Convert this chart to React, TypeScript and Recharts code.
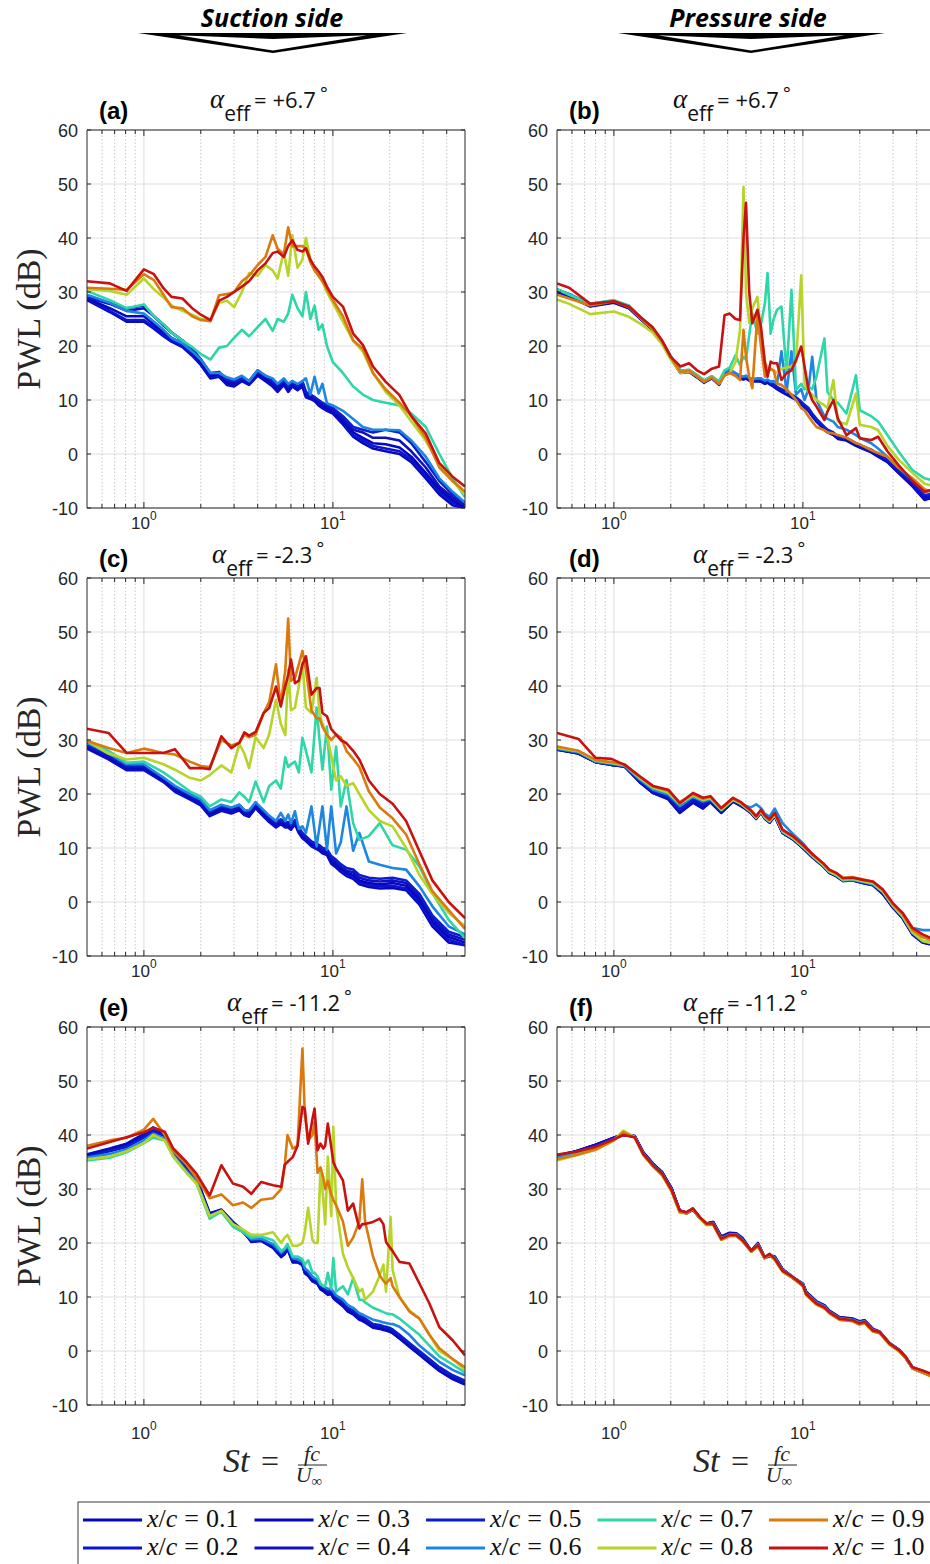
import React from 'react';
import { LineChart, Line, XAxis, YAxis, CartesianGrid, ReferenceLine } from 'recharts';

// ---------- shared labels ----------
const seriesNames = ['0.1', '0.2', '0.3', '0.4', '0.5', '0.6', '0.7', '0.8', '0.9', '1.0'];
const seriesColors = ['#0808b8', '#0a14d2', '#0606c4', '#1010bc', '#0a1ed0', '#1c86e2', '#2ed6a8', '#b6d42a', '#da7a0e', '#c81212'];
const yTicks = [-10, 0, 10, 20, 30, 40, 50, 60];
const xMajorTicks = [1, 10];
const xMinorTicks = [0.6, 0.7, 0.8, 0.9, 2, 3, 4, 5, 6, 7, 8, 9, 20, 30, 40];
const alphaLabels = ['+6.7', '-2.3', '-11.2'];
const panelLetters = ['(a)', '(b)', '(c)', '(d)', '(e)', '(f)'];
const sideTitles = ['Suction side', 'Pressure side'];

// ---------- panel (a): suction, +6.7 ----------
const stA = [0.5, 0.66, 0.81, 1.0, 1.13, 1.27, 1.4, 1.6, 1.8, 2.0, 2.25, 2.5, 2.75, 3.0, 3.3, 3.6, 4.0,
  4.4, 4.8, 5.1, 5.5, 5.8, 6.1, 6.5, 6.9, 7.2, 7.6, 8.0, 8.4, 8.8, 9.3, 10,
  11.3, 12.8, 14.4, 16.3, 19, 22.5, 26, 31, 36.6, 43, 50];
const a01 = [28.5, 26.3, 24.5, 24.5, 23.2, 21.8, 20.8, 19.8, 18.2, 16.5, 14, 14.3, 12.8, 12.5, 13.5, 12.8, 14.5,
  13.5, 12.5, 11.5, 12.8, 11.5, 12.5, 11.8, 12.5, 10.5, 10.2, 9.8, 9, 8.5, 8, 7.5,
  5.5, 3.2, 2, 1, 0.5, 0, -1.5, -4.5, -7.5, -9.5, -10];
const a02 = [28.7, 26.5, 24.8, 24.8, 23.5, 22, 21, 20, 18.5, 16.8, 14.2, 14.5, 13, 12.8, 13.8, 13, 14.7,
  13.8, 12.8, 11.8, 13, 11.8, 12.8, 12, 12.8, 10.8, 10.5, 10, 9.3, 8.8, 8.2, 7.8,
  5.8, 3.5, 2.5, 1.5, 1, 0.5, -1, -4, -7, -9, -10];
const a03 = [28.8, 27, 25.5, 25.5, 24, 22.5, 21.5, 20.5, 19, 17, 14.5, 14.8, 13.2, 13, 14, 13.2, 14.8,
  14, 13, 12, 13.2, 12, 13, 12.2, 13, 11, 10.8, 10.2, 9.5, 9, 8.5, 8,
  6, 4, 3, 2, 1.8, 1.2, -0.5, -3.5, -6.5, -8.5, -10];
const a04 = [29, 27.8, 26.5, 27, 25.5, 23.8, 22.5, 21, 19.5, 17.5, 14.8, 15, 13.5, 13.2, 14, 13.5, 15,
  14.2, 13.2, 12.5, 13.5, 12.3, 13.2, 12.5, 13.3, 11.3, 11, 10.5, 9.8, 9.3, 8.8, 8.2,
  6.5, 4.5, 4, 3, 3, 2.5, 0.5, -2.5, -6, -8, -9.5];
const a05 = [29, 28, 27, 27.5, 25.5, 24, 22.5, 21, 19.5, 17.5, 15, 15.2, 13.8, 13.5, 14, 13.5, 15.5,
  14.5, 13.5, 13, 13.5, 12.5, 13.5, 12.5, 13.5, 11.5, 11, 10.5, 10, 9.5, 9, 8.5,
  7, 5, 4.5, 4, 4.5, 4, 2, -1.5, -5, -7.5, -9];
const a06 = [29.5, 28, 26.5, 26, 24.5, 23, 21.5, 20.5, 19, 17.5, 15, 15, 14.2, 13.8, 14.5, 13.5, 15.5,
  14.5, 14, 13, 14, 13, 13.5, 13, 13.5, 14, 11, 14.3, 11.2, 13, 9.4, 9,
  8, 6.5, 5, 4.5, 4.5, 4.4, 2.5, -0.5, -4.5, -7, -9];
const a07 = [30.2, 28.5, 27, 27.7, 25.5, 24, 22.5, 21, 19.8, 18.5, 17.5, 19.7, 20, 21.5, 23, 21.8, 23.5,
  25, 22.8, 25, 24.5, 26, 29.5, 27, 25.5, 30, 25, 27.5, 23, 24, 20, 17,
  15, 12.5, 11, 10, 9.5, 9, 7.5, 5, 0, -4.5, -8];
const a08 = [30.5, 30.2, 29.5, 32.5, 30.5, 29, 27.5, 26.5, 25.8, 25, 24.7, 28, 28.4, 27.2, 30, 33.5, 33,
  35, 34, 32.5, 37.5, 33, 40.5, 34.5, 36, 40, 36, 34, 33, 32, 30, 28,
  24.5, 21, 19, 15, 11.5, 9, 6, 2.5, -2, -5, -7.5];
const a09 = [30.8, 30.6, 30.4, 33.3, 32.2, 29.5, 27.2, 27, 25.5, 24.8, 24.6, 29.4, 29.6, 30, 32, 33, 35,
  36.5, 40.5, 38, 37, 42, 38.5, 38.5, 38.5, 38, 35.5, 34, 33, 32, 30.5, 28.5,
  25.5, 21, 19.5, 15, 12, 9.5, 7, 3, -2.5, -5, -7];
const a10 = [32, 31.6, 30.2, 34.2, 33.3, 30.7, 29.1, 28.8, 27, 25.8, 24.8, 28.4, 29.1, 30, 31, 32, 34,
  35.3, 37.2, 37.5, 36.5, 38.5, 39.6, 37.8, 37.5, 38.1, 36, 34.7, 33.8, 32.8, 31, 29.1,
  27.3, 22.3, 20.2, 16.2, 13.4, 10.9, 7, 3.8, -1.7, -4.2, -6];

// ---------- panel (b): pressure, +6.7 ----------
const stB = [0.5, 0.58, 0.75, 1.0, 1.2, 1.4, 1.6, 1.8, 2.0, 2.25, 2.5, 2.75, 3.0, 3.3, 3.6,
  3.85, 4.1, 4.4, 4.65, 4.85, 5.0, 5.2, 5.4, 5.75, 6.0, 6.3, 6.5, 6.75, 7.0, 7.3, 7.7, 8.2, 8.7, 9.2, 9.8,
  10.2, 10.7, 11.2, 11.8, 13, 13.5, 14.5, 15.3, 17, 19.1, 20, 23, 25, 28, 32, 38, 44, 50];
const b01 = [30, 29.2, 27.3, 28, 27, 24.8, 23, 20.5, 17.7, 15, 15.2, 14.2, 13.2, 14, 12.8,
  14.8, 15.2, 14.5, 14, 13.8, 14, 13.6, 13.4, 13.5, 13.4, 13, 13.2, 12.8, 12.5, 12, 11.5, 11, 10.5, 10, 9.2,
  8.6, 8, 7, 6, 4.5, 4, 3.5, 2.8, 2.5, 1.5, 1.2, 0.3, -0.5, -1.5, -3.5, -6, -8.5, -8];
const b02 = [30.2, 29.4, 27.5, 28.1, 27.1, 24.9, 23.1, 20.6, 17.8, 15.1, 15.3, 14.3, 13.3, 14.1, 12.9,
  14.9, 15.3, 14.6, 14.1, 13.9, 14.1, 13.7, 13.5, 13.6, 13.5, 13.1, 13.3, 12.9, 12.6, 12.1, 11.6, 11.1, 10.6, 10.1, 9.3,
  8.7, 8.1, 7.1, 6.1, 4.6, 4.1, 3.6, 2.9, 2.6, 1.6, 1.3, 0.4, -0.4, -1.4, -3.4, -5.8, -8.2, -7.8];
const b03 = [30.3, 29.5, 27.6, 28.2, 27.2, 25, 23.2, 20.7, 17.9, 15.2, 15.4, 14.4, 13.4, 14.2, 13,
  15, 15.4, 14.7, 14.2, 14, 14.2, 13.8, 13.6, 13.7, 13.6, 13.2, 13.4, 13, 12.7, 12.2, 11.7, 11.2, 10.7, 10.2, 9.4,
  8.8, 8.2, 7.2, 6.2, 4.7, 4.2, 3.7, 3, 2.7, 1.7, 1.4, 0.5, -0.3, -1.3, -3.3, -5.6, -8, -7.6];
const b04 = [30.1, 29.3, 27.4, 28.1, 27.1, 24.9, 23.1, 20.6, 17.8, 15.1, 15.3, 14.3, 13.3, 14.1, 12.9,
  14.9, 15.4, 14.8, 14.3, 14.1, 14.3, 13.9, 13.7, 13.8, 13.7, 13.3, 13.5, 13.1, 12.8, 12.3, 11.8, 11.3, 10.8, 10.3, 9.5,
  8.9, 8.3, 7.3, 6.3, 4.8, 4.3, 3.8, 3.1, 2.8, 1.8, 1.5, 0.6, -0.2, -1.2, -3.2, -5.5, -7.8, -7.5];
const b05 = [30.4, 29.6, 27.7, 28.3, 27.3, 25.1, 23.3, 20.8, 18, 15.3, 15.5, 14.5, 13.5, 14.3, 13.1,
  15.1, 15.5, 14.9, 14.4, 14.2, 14.4, 14, 13.8, 13.9, 13.8, 13.4, 13.6, 13.2, 12.9, 12.4, 12, 11.5, 11, 10.5, 9.7,
  9.1, 8.5, 7.5, 6.5, 5, 4.5, 4, 3.3, 3, 2, 1.7, 0.8, 0, -1, -3, -5.3, -7.6, -7.3];
const b06 = [30.5, 29.6, 27.8, 28.4, 27.4, 25.2, 23.4, 20.9, 18.1, 15.4, 15.6, 14.6, 13.6, 14.4, 13.2,
  15.2, 15.6, 15, 14.5, 14.3, 14.5, 14.1, 13.9, 14, 14, 13.6, 13.8, 13.4, 13.5, 13, 19, 11.5, 19, 11, 12,
  10, 12, 18, 10, 7, 6.5, 6, 5, 4.5, 3.5, 3, 2, 1, -0.5, -2.5, -4.8, -7, -6.8];
const b07 = [30.5, 29.5, 27.8, 28.5, 27.5, 25, 23.2, 20.8, 18, 15.5, 15.5, 14.6, 13.6, 14.4, 13.5,
  15.5, 16, 18.3, 16.5, 18, 17.5, 22, 26, 22.3, 24, 28, 33.5, 22.3, 25, 26.7, 27.3, 15, 30.4, 11.9, 13,
  12, 12.5, 12, 14.3, 21.4, 11.5, 10, 9.5, 7.5, 14.6, 8.1, 7, 6, 3.5, 0.5, -3, -4.5, -5];
const b08 = [28.6, 27.8, 25.9, 26.4, 25.4, 24, 22.5, 20.3, 17.5, 15, 15.3, 14.4, 13.4, 14.2, 13,
  14.5, 15, 17, 23, 49.5, 30, 24.3, 27, 29.1, 22.3, 17, 16, 15.6, 15.5, 15, 15.8, 16, 16.2, 17, 33.1,
  13.1, 11.5, 11, 10, 9, 8.5, 13.7, 6, 5.5, 11.2, 5.4, 5, 4.4, 1.5, -1, -3.5, -5.5, -6];
const b09 = [29.5, 28.8, 27.5, 28.3, 27.2, 25, 23.2, 20.8, 17.9, 15.2, 15.4, 14.4, 13.4, 14.2, 13,
  14.5, 15, 14.5, 13.7, 23, 18, 14.3, 12.2, 26, 20, 14.3, 15, 15.8, 15.5, 13, 12.8, 12, 11, 10, 8.5,
  8.1, 7, 6, 5, 4.4, 4, 3.8, 3.5, 3, 2, 1.8, 0.7, 0.2, -0.5, -2.5, -4.5, -6.5, -7.3];
const b10 = [31.6, 30.8, 27.8, 28.3, 27.3, 25.2, 23.5, 21, 18, 16.2, 16.8, 15.5, 14.8, 15.8, 16.2,
  25.7, 26, 25, 24.8, 40, 46.5, 30, 24.2, 26.7, 23.6, 16.8, 14.3, 17.1, 16.8, 16.8, 13.7, 15, 15.5, 17.4, 19.9,
  16.2, 11.9, 10, 8.8, 6.3, 7.9, 10, 6.6, 3.5, 4.8, 2.9, 2.6, 3.2, 0.5, -2, -5, -7, -6.4];

// ---------- panel (c): suction, -2.3 ----------
const stC = [0.5, 0.65, 0.81, 1.0, 1.27, 1.46, 1.75, 2.0, 2.23, 2.57, 2.9, 3.2, 3.4, 3.6, 3.9,
  4.3, 4.6, 5.0, 5.3, 5.6, 5.8, 6.0, 6.3, 6.6, 6.9, 7.2, 7.7, 8.2, 8.5, 8.8, 9.3,
  9.8, 10.4, 11.0, 11.8, 12.8, 13.8, 15.5, 17.7, 20.7, 24.4, 28.7, 33.6, 41, 50];
const c01 = [28.4, 26.4, 24.4, 24.4, 22.2, 20.4, 19, 17.9, 15.9, 16.9, 16.4, 17, 16.1, 15.8, 17.4,
  15.8, 14.8, 13.8, 14.4, 13.8, 13.8, 13.4, 14.4, 12.8, 11.8, 11.3, 10.3, 9.8, 9.5, 9, 8.7,
  7.1, 6.4, 5.6, 4.8, 4.3, 3.3, 2.8, 2.5, 2.6, 2.2, -0.5, -4.5, -7.5, -8];
const c02 = [28.5, 26.6, 24.6, 24.6, 22.4, 20.6, 19.2, 18.1, 16.1, 17.1, 16.6, 17.2, 16.3, 16, 17.6,
  16, 15, 14, 14.6, 14, 14, 13.6, 14.6, 13, 12, 11.5, 10.5, 10, 9.7, 9.3, 9,
  7.4, 6.7, 5.9, 5.1, 4.6, 3.6, 3.1, 2.9, 3, 2.5, 0, -4, -7, -8];
const c03 = [28.6, 26.8, 24.8, 24.8, 22.6, 20.8, 19.4, 18.3, 16.3, 17.3, 16.8, 17.4, 16.5, 16.2, 17.8,
  16.2, 15.3, 14.2, 14.8, 14.2, 14.2, 13.8, 14.8, 13.2, 12.2, 11.8, 10.7, 10.2, 10, 9.5, 9.2,
  7.7, 7, 6.2, 5.4, 5, 4, 3.5, 3.3, 3.5, 3, 0.5, -3.5, -6.5, -7.5];
const c04 = [28.8, 27, 25, 25, 22.8, 21, 19.6, 18.5, 16.5, 17.5, 17, 17.6, 16.7, 16.5, 18,
  16.5, 15.5, 14.5, 15, 14.5, 14.5, 14, 15, 13.5, 12.5, 12, 11, 10.5, 10.2, 9.7, 9.5,
  8, 7.3, 6.5, 5.8, 5.5, 4.5, 4, 3.8, 4, 3.5, 1, -3, -6, -7];
const c05 = [29, 27.3, 25.2, 25.3, 23, 21.3, 19.8, 18.8, 16.8, 17.8, 17.3, 18, 17, 16.8, 18.2,
  16.8, 15.8, 14.8, 15.3, 14.8, 14.8, 14.2, 15.2, 13.8, 12.8, 12.2, 11.2, 10.8, 10.5, 10, 9.8,
  8.5, 7.8, 7, 6.3, 6, 5, 4.5, 4.3, 4.5, 4, 1.5, -2.5, -5.5, -6.5];
const c06 = [29.5, 27.5, 25.5, 25.5, 23, 21.5, 20, 19, 17, 18, 17.5, 18, 17, 17, 18.5,
  17, 16, 15, 16.5, 15, 16.2, 14.6, 16.8, 13.5, 14, 12.8, 17.7, 10.3, 14, 17.7, 9.7,
  17.7, 9, 11, 17.7, 9.5, 12.8, 7.5, 6.9, 6.3, 6, 2.9, -0.8, -4.5, -6];
const c07 = [30, 28, 25.8, 26, 24, 22.5, 20.5, 19.5, 17.7, 19, 18.5, 20.3, 19.5, 18.5, 22.3,
  18.5, 21.5, 22.5, 21, 26.8, 25, 25.5, 26, 24, 30.4, 28, 24, 36, 30, 24.5, 32.5,
  20.8, 28.8, 17.7, 22.6, 14.6, 11.5, 12.2, 14.6, 10.5, 9.7, 6.6, 1.7, -3.3, -6.7];
const c08 = [29.8, 27.5, 26.4, 26.7, 25.5, 24.5, 23, 22.5, 23.5, 25.3, 24, 29.3, 27.5, 24.8, 30.5,
  28.5, 31, 37.5, 33, 30.9, 43, 35.5, 36, 40, 44.3, 36, 35, 41.5, 35, 33, 31,
  27, 22.5, 23.3, 21.5, 22, 20, 17, 15, 14, 10, 5, 1.5, -2, -4.5];
const c09 = [29.8, 28.5, 27.6, 28.4, 27.6, 27.3, 26, 25.2, 25, 30, 29, 29.5, 31, 30.5, 31,
  35, 37, 44, 36.5, 43, 52.5, 41, 41.5, 44, 46.5, 43, 35.5, 34, 34, 32.5, 31,
  30, 31, 30.5, 28, 26.5, 25, 20.5, 17.5, 15.5, 12.5, 7, 2, -1.5, -5];
const c10 = [32.1, 31.3, 27.6, 27.6, 27.6, 28.3, 24.8, 24.8, 24.6, 30.7, 28.5, 29.5, 31.4, 30.8, 31.5,
  35, 35.9, 39.9, 36.2, 40, 42, 44.9, 40.5, 41, 44, 45.5, 38.4, 39.6, 39.6, 35, 34.4,
  32, 31, 30, 29.4, 28, 26.4, 22.5, 20, 18.2, 15, 9.4, 4, 0, -3];

// ---------- panel (d): pressure, -2.3 ----------
const stD = [0.5, 0.65, 0.8, 0.97, 1.14, 1.37, 1.61, 1.94, 2.23, 2.62, 2.96, 3.24, 3.7, 4.27, 4.7, 5.0, 5.3, 5.66, 6.0, 6.3,
  6.66, 7.1, 7.8, 8.85, 10, 11.3, 12.8, 13.8, 15, 16.3, 18.4, 20.7, 23.5, 26.5, 29.9, 33.7, 38, 43, 50];
const d01 = [28.2, 27.5, 25.9, 25.4, 25.1, 22.2, 20.2, 19, 16.5, 18.4, 17.3, 18.5, 16.5, 18.6, 17.8, 17.2, 16.5, 15.4, 16.6, 15.4,
  14.7, 15.9, 12.8, 11.6, 10, 8.2, 6.6, 5.4, 4.8, 3.9, 4, 3.5, 3.1, 1.5, -1, -3, -6, -7.5, -8];
const d02 = [28.2, 27.5, 25.9, 25.4, 25.1, 22.2, 20.2, 19.1, 16.6, 18.5, 17.4, 18.5, 16.5, 18.6, 17.8, 17.2, 16.5, 15.4, 16.6, 15.4,
  14.7, 15.9, 12.8, 11.6, 10, 8.2, 6.6, 5.4, 4.8, 3.9, 4, 3.5, 3.1, 1.5, -1, -3, -6, -7.5, -8];
const d03 = [28.3, 27.5, 25.9, 25.4, 25.1, 22.3, 20.3, 19.2, 16.7, 18.6, 17.6, 18.6, 16.6, 18.7, 17.9, 17.3, 16.6, 15.5, 16.7, 15.5,
  14.8, 16, 12.9, 11.7, 10.1, 8.3, 6.7, 5.5, 4.9, 4, 4.1, 3.6, 3.2, 1.6, -0.9, -2.9, -5.9, -7.4, -8];
const d04 = [28.3, 27.6, 26, 25.5, 25.1, 22.4, 20.4, 19.3, 16.9, 18.7, 17.8, 18.7, 16.7, 18.7, 17.9, 17.3, 16.6, 15.5, 16.7, 15.5,
  14.8, 16, 12.9, 11.7, 10.1, 8.3, 6.7, 5.5, 4.9, 4, 4.1, 3.6, 3.2, 1.7, -0.9, -2.9, -5.9, -7.4, -7.9];
const d05 = [28.4, 27.7, 26, 25.5, 25.2, 22.5, 20.5, 19.5, 17.2, 19, 18.3, 18.9, 16.8, 18.8, 18, 17.4, 16.7, 15.6, 16.8, 15.6,
  14.9, 16.1, 13, 11.8, 10.2, 8.4, 6.8, 5.6, 5, 4.1, 4.2, 3.7, 3.3, 1.8, -0.8, -2.8, -5.8, -7.3, -7.8];
const d06 = [28.4, 27.7, 26, 25.6, 25.2, 22.7, 20.8, 19.9, 17.8, 19.5, 18.6, 19, 17, 19.1, 18.2, 17.8, 17.5, 18.1, 17.4, 16.3,
  15.8, 17.3, 14.6, 12.6, 10.9, 8.6, 6.8, 5.6, 5, 4, 4.1, 3.7, 3.3, 1.8, -0.6, -2.4, -4.8, -5.2, -5.2];
const d07 = [28.6, 27.9, 26.2, 25.7, 25.3, 22.9, 21.1, 20.2, 18.2, 19.7, 18.9, 19.2, 17.1, 18.9, 18.2, 17.5, 16.8, 15.7, 16.8, 15.6,
  14.9, 16.1, 13, 11.8, 10.2, 8.4, 6.8, 5.6, 5, 4.1, 4.2, 3.8, 3.4, 1.9, -0.7, -2.7, -5.7, -7.2, -7.6];
const d08 = [28.6, 27.9, 26.2, 25.8, 25.4, 23, 21.2, 20.3, 18.2, 19.8, 18.9, 19.3, 17.1, 19, 18.2, 17.4, 16.7, 15.6, 16.8, 15.7,
  15, 16.2, 13.1, 11.9, 10.3, 8.5, 6.9, 5.7, 5.1, 4.2, 4.3, 3.9, 3.5, 2, -0.6, -2.6, -5.6, -7.2, -7.8];
const d09 = [28.8, 28, 26.3, 25.9, 25.5, 23.2, 21.4, 20.6, 18.5, 20, 19.1, 19.5, 17.3, 19.2, 18.4, 17.6, 16.9, 15.8, 17, 15.9,
  15.2, 16.4, 13.3, 12.1, 10.5, 8.7, 7.1, 5.9, 5.3, 4.5, 4.6, 4.2, 3.7, 2.2, -0.4, -2.3, -5.2, -6.5, -7.3];
const d10 = [31.3, 30.2, 26.7, 26.5, 25.4, 23.3, 21.5, 20.8, 18.3, 20.2, 19.3, 19.6, 17.4, 19.3, 18.5, 17.7, 17, 15.9, 17.1, 16,
  15.3, 16.5, 13.4, 12.2, 10.6, 8.8, 7.2, 6, 5.4, 4.4, 4.5, 4.1, 3.8, 2.3, -0.2, -2, -4.8, -6, -7];

// ---------- panel (e): suction, -11.2 ----------
const stE = [0.5, 0.66, 0.81, 1.0, 1.12, 1.29, 1.43, 1.68, 1.9, 2.23, 2.57, 2.96, 3.35, 3.7, 4.17, 4.82,
  5.33, 5.55, 5.75, 6.13, 6.5, 6.9, 7.1, 7.4, 7.8, 8.0, 8.3, 8.6, 8.9, 9.1, 9.4, 9.8, 10.05, 10.4,
  11.3, 12, 12.8, 13.8, 14.3, 14.8, 16.3, 17.7, 18.5, 19.1, 20.2, 20.7, 22.5, 25.4, 28.7, 32.4, 36.6, 43, 50];
const e01 = [36.4, 37.5, 38.4, 40.2, 41.4, 40.4, 37, 34, 32, 25.5, 26.2, 23.9, 22.3, 20.2, 20.4, 19.1,
  17.4, 17.9, 18.9, 16.4, 16.4, 15.9, 14.4, 13.9, 12.9, 12.7, 12.4, 11.4, 11.1, 10.8, 10.4, 10.6, 9.8, 9.3,
  8.3, 7.3, 6.8, 5.8, 5.6, 5.3, 4.3, 4.1, 3.9, 3.8, 3.5, 3.3, 2.3, 0.8, -0.7, -2.2, -3.7, -5.2, -6.2];
const e02 = [36.3, 37.4, 38.3, 40.1, 41.3, 40.3, 36.9, 33.9, 31.9, 25.4, 26.1, 23.8, 22.2, 20.3, 20.5, 19.2,
  17.5, 18, 19, 16.5, 16.5, 16, 14.5, 14, 13, 12.8, 12.5, 11.5, 11.2, 10.9, 10.5, 10.7, 9.9, 9.4,
  8.4, 7.4, 6.9, 5.9, 5.7, 5.4, 4.4, 4.2, 4, 3.9, 3.6, 3.4, 2.4, 0.9, -0.6, -2.1, -3.6, -5.1, -6.1];
const e03 = [36.2, 37.3, 38.2, 40, 41.2, 40.2, 36.8, 33.8, 31.8, 25.3, 26, 23.7, 22.1, 20.4, 20.6, 19.3,
  17.6, 18.1, 19.1, 16.6, 16.6, 16.1, 14.6, 14.1, 13.1, 12.9, 12.6, 11.6, 11.3, 11, 10.6, 10.8, 10, 9.5,
  8.5, 7.5, 7, 6, 5.8, 5.5, 4.5, 4.3, 4.1, 4, 3.7, 3.5, 2.5, 1, -0.5, -2, -3.5, -5, -6];
const e04 = [36, 37.2, 38, 39.8, 41, 40, 36.7, 33.7, 31.7, 25.2, 25.9, 23.6, 22, 20.5, 20.7, 19.4,
  17.8, 18.3, 19.3, 16.8, 16.8, 16.3, 14.8, 14.3, 13.3, 13.1, 12.8, 11.8, 11.5, 11.2, 10.8, 11, 10.2, 9.7,
  8.7, 7.7, 7.2, 6.2, 6, 5.7, 4.7, 4.5, 4.3, 4.2, 3.9, 3.7, 2.7, 1.2, -0.3, -1.8, -3.3, -4.8, -5.8];
const e05 = [36, 37, 37.8, 39.5, 40.7, 39.8, 36.6, 33.6, 31.6, 25, 25.8, 23.5, 22, 20.5, 20.8, 19.5,
  18, 18.5, 19.5, 17, 17, 16.5, 15, 14.5, 13.5, 13.3, 13, 12, 11.8, 11.5, 11, 11.3, 10.5, 10,
  9, 8, 7.5, 6.5, 6.3, 6, 5, 4.8, 4.6, 4.5, 4.2, 4, 3, 1.5, 0, -1.5, -3, -4.5, -5.5];
const e06 = [35.8, 36.5, 37.3, 39, 40.2, 39.3, 36.3, 33.3, 31.3, 25, 25.8, 23.3, 22, 20.7, 20.8, 19.8,
  18.2, 18.8, 19.5, 17.2, 17, 16.5, 15.3, 14.8, 13.8, 13.5, 13.2, 12.3, 12, 11.8, 11.5, 11.5, 11, 10.3,
  9.5, 8.5, 8, 7, 6.8, 6.5, 5.8, 5.5, 5.3, 5.2, 5, 5, 4.5, 3, 1, -0.5, -2, -3.5, -4.5];
const e07 = [35.3, 35.8, 36.8, 38.5, 39.5, 39, 36, 33, 31, 24.5, 25.8, 23, 22, 21, 21.2, 20.5,
  18.5, 19, 19.8, 17.5, 17.5, 17, 16, 16.8, 14.5, 14.5, 13.8, 12.5, 12, 12, 14.5, 11.5, 17.2, 11,
  12, 10.5, 13.5, 9.5, 9.5, 9, 8, 7.5, 7.2, 7, 6.8, 6.8, 6, 4.5, 3, 1, -1, -2.5, -4];
const e08 = [35.5, 36, 37, 38.5, 40, 39, 36, 33, 31, 25, 26, 23.5, 22.5, 21.5, 21.5, 22,
  20, 21, 21.5, 19.5, 19.5, 20, 22, 26.5, 20.5, 20, 20, 33.5, 28, 23.5, 36, 25, 41.5, 27,
  18, 15.5, 13.5, 11, 11.5, 9.5, 11, 14, 16, 11, 24.8, 15, 10, 7.5, 6, 3, 0, -1.5, -3.5];
const e09 = [38, 39, 39.5, 41, 43, 40, 37, 34.5, 32, 28.3, 29, 27, 27.5, 26.5, 28, 28.3,
  30, 34, 40, 37.5, 38, 56, 44, 39, 40, 42.4, 33, 34, 32, 30, 31.5, 29, 28, 27,
  24, 19.5, 21, 24, 31.8, 24, 17.5, 14, 13, 12.5, 13.5, 12, 10, 7.3, 6, 3, 0.5, -1.5, -3];
const e10 = [37.5, 38.7, 39.6, 40.5, 41.3, 40.6, 37.5, 35, 32.8, 28.8, 34.4, 31, 30.4, 29.1, 31.3, 30.7,
  30.4, 34.4, 35, 35.9, 38, 45.2, 44.9, 38.4, 43, 44.9, 37.2, 38.4, 37.5, 38, 42.1, 37.8, 35, 33.8,
  31.6, 26, 27.3, 22.7, 23.5, 23.5, 23.9, 24.5, 23.5, 20.2, 19, 18.5, 16.5, 16.2, 12.5, 8.8, 4.4, 2, -0.8];

// ---------- panel (f): pressure, -11.2 ----------
const stF = [0.5, 0.63, 0.8, 1.0, 1.12, 1.29, 1.43, 1.61, 1.8, 2.02, 2.23, 2.42, 2.62, 2.85, 3.09, 3.35, 3.7, 4.1, 4.44, 4.8,
  5.33, 5.78, 6.27, 6.66, 7.1, 7.8, 8.85, 10, 10.4, 11.8, 13, 13.8, 15.6, 18.4, 19.9, 21.2, 23.5, 25.5, 28.7, 32.4,
  35, 38, 43, 50];
const f01 = [36.2, 37, 38.2, 39.5, 40.1, 39.8, 36.8, 34.7, 33.1, 30.1, 26, 25.6, 26.3, 24.7, 23.6, 23.9, 21.1, 21.8, 21.7, 20.8,
  18.5, 19.9, 17.3, 17.7, 17.4, 15.1, 13.6, 12.4, 10.9, 9.1, 8.4, 7.4, 6.2, 5.9, 5.4, 5.6, 4, 3.5, 1.4, 0.1,
  -1.2, -3.1, -3.9, -4.7];
const f02 = [36.1, 36.9, 38.1, 39.4, 40, 39.7, 36.7, 34.6, 33, 30, 25.9, 25.5, 26.2, 24.6, 23.5, 23.8, 21, 21.7, 21.6, 20.7,
  18.4, 19.8, 17.2, 17.6, 17.3, 15, 13.5, 12.3, 10.8, 9, 8.3, 7.3, 6.1, 5.8, 5.3, 5.5, 3.9, 3.4, 1.3, 0,
  -1.3, -3.2, -4, -4.8];
const f03 = [36.2, 37, 38.2, 39.5, 40.1, 39.8, 36.8, 34.7, 33.1, 30.1, 26, 25.6, 26.3, 24.7, 23.6, 23.9, 21.2, 21.9, 21.8, 20.9,
  18.6, 20, 17.4, 17.7, 17.5, 15.2, 13.7, 12.5, 11, 9.2, 8.5, 7.5, 6.3, 6, 5.5, 5.7, 4.1, 3.6, 1.5, 0.2,
  -1.1, -3, -3.8, -4.6];
const f04 = [36.1, 36.9, 38.1, 39.5, 40.1, 39.7, 36.7, 34.6, 33, 30, 25.9, 25.5, 26.2, 24.6, 23.5, 23.8, 21.1, 21.8, 21.7, 20.8,
  18.5, 19.9, 17.3, 17.6, 17.4, 15.1, 13.6, 12.4, 10.9, 9.1, 8.4, 7.4, 6.2, 5.9, 5.4, 5.6, 4, 3.5, 1.4, 0.1,
  -1.2, -3.1, -3.9, -4.7];
const f05 = [36, 36.8, 38, 39.4, 40, 39.7, 36.7, 34.6, 33, 30, 25.9, 25.5, 26.2, 24.6, 23.5, 23.8, 21, 21.7, 21.6, 20.7,
  18.4, 19.8, 17.2, 17.6, 17.3, 15, 13.5, 12.3, 10.8, 9, 8.3, 7.3, 6.1, 5.8, 5.3, 5.5, 3.9, 3.4, 1.3, 0,
  -1.3, -3.2, -4, -4.8];
const f06 = [35.8, 36.6, 37.7, 39.2, 40.2, 39.7, 36.6, 34.5, 32.9, 29.9, 25.9, 25.6, 26.4, 24.7, 23.6, 23.7, 20.9, 21.6, 21.6, 20.6,
  18.6, 19.8, 17.4, 17.9, 17.3, 15.1, 13.7, 12.4, 10.8, 9, 8.3, 7.3, 6.1, 5.8, 5.3, 5.5, 3.9, 3.5, 1.4, 0.1,
  -1.2, -3.1, -3.9, -4.6];
const f07 = [35.5, 36.4, 37.5, 39.1, 40.5, 39.6, 36.4, 34.3, 32.7, 29.7, 25.8, 25.6, 26.4, 24.7, 23.5, 23.6, 20.8, 21.5, 21.5, 20.5,
  18.5, 19.6, 17.3, 17.9, 17.1, 14.9, 13.6, 12.2, 10.6, 8.8, 8.1, 7.2, 6, 5.7, 5.1, 5.4, 3.8, 3.5, 1.4, 0.1,
  -1.1, -3, -3.7, -4.7];
const f08 = [35.3, 36.2, 37.2, 39, 40.8, 39.6, 36.3, 34.2, 32.5, 29.5, 25.6, 25.5, 26.3, 24.5, 23.3, 23.4, 20.6, 21.3, 21.3, 20.3,
  18.4, 19.4, 17.2, 17.8, 16.9, 14.7, 13.5, 12, 10.4, 8.6, 7.9, 7, 5.8, 5.5, 4.9, 5.2, 3.6, 3.3, 1.2, -0.1,
  -1.3, -3.2, -4, -5];
const f09 = [35.5, 36.3, 37.3, 39, 40.5, 39.5, 36.3, 34.2, 32.6, 29.6, 25.7, 25.5, 26.3, 24.6, 23.4, 23.4, 20.6, 21.3, 21.3, 20.3,
  18.4, 19.4, 17.2, 17.8, 16.9, 14.7, 13.5, 12, 10.4, 8.6, 7.9, 7, 5.8, 5.5, 4.9, 5.2, 3.6, 3.3, 1.2, -0.1,
  -1.3, -3.2, -4, -5];
const f10 = [36.4, 36.9, 37.8, 39.2, 40, 39.6, 36.5, 34.4, 32.8, 29.8, 26, 25.7, 26.4, 24.8, 23.6, 23.6, 20.8, 21.5, 21.5, 20.5,
  18.6, 19.6, 17.4, 18, 17.1, 14.9, 13.7, 12.2, 10.6, 8.8, 8.1, 7.2, 6, 5.7, 5.1, 5.4, 3.8, 3.5, 1.4, 0.1,
  -1.1, -3, -3.6, -4.5];

const panels = [
  { st: stA, series: [a01, a02, a03, a04, a05, a06, a07, a08, a09, a10] },
  { st: stB, series: [b01, b02, b03, b04, b05, b06, b07, b08, b09, b10] },
  { st: stC, series: [c01, c02, c03, c04, c05, c06, c07, c08, c09, c10] },
  { st: stD, series: [d01, d02, d03, d04, d05, d06, d07, d08, d09, d10] },
  { st: stE, series: [e01, e02, e03, e04, e05, e06, e07, e08, e09, e10] },
  { st: stF, series: [f01, f02, f03, f04, f05, f06, f07, f08, f09, f10] },
];

// ---------- layout ----------
const COL_LEFT = [87, 557];
const ROW_TOP = [130, 578, 1027];
const PLOT = 378;
const YW = 60;
const MT = 14;
const MR = 6;
const XH = 45;
const PB = MT + PLOT;
const XLABEL_OFF = [21, 21, 34];
const TITLE_X = [210, 673, 212, 693, 227, 683];
const TITLE_BASE = [108, 563, 1011];
const AX = '#262626';
const SANS = '"Liberation Sans", Arial, Helvetica, sans-serif';
const SERIF = '"Liberation Serif", "Times New Roman", serif';

function buildRows(st: number[], series: number[][]) {
  return st.map((x, i) => {
    const r: any = { x };
    series.forEach((s, j) => { r['s' + j] = s[i]; });
    return r;
  });
}

const allXTicks = [...xMinorTicks, ...xMajorTicks].sort((p, q) => p - q);

function makeXTick(labelOff: number) {
  return (props: any) => {
    const { x, payload } = props;
    const v = payload.value;
    const major = xMajorTicks.includes(v);
    const len = major ? 6 : 4;
    return (
      <g>
        <line x1={x} x2={x} y1={PB} y2={PB - len} stroke={AX} strokeWidth={1} />
        <line x1={x} x2={x} y1={MT} y2={MT + len} stroke={AX} strokeWidth={1} />
        {major && (
          <text x={x} y={PB + labelOff} textAnchor="middle" fontFamily={SANS} fontSize={17} fill={AX}>
            10<tspan fontSize={12} dy={-9}>{Math.round(Math.log10(v))}</tspan>
          </text>
        )}
      </g>
    );
  };
}

const YTick = (props: any) => {
  const { y, payload } = props;
  return (
    <g>
      <line x1={YW} x2={YW + 4} y1={y} y2={y} stroke={AX} strokeWidth={1} />
      <line x1={YW + PLOT - 4} x2={YW + PLOT} y1={y} y2={y} stroke={AX} strokeWidth={1} />
      <text x={YW - 9} y={y} dy={6.5} textAnchor="end" fontFamily={SANS} fontSize={18} fill={AX}>{payload.value}</text>
    </g>
  );
};

function Panel({ idx }: { idx: number }) {
  const p = panels[idx];
  const row = Math.floor(idx / 2);
  const col = idx % 2;
  const rows = buildRows(p.st, p.series);
  const XTick = makeXTick(XLABEL_OFF[row]);
  return (
    <div style={{ position: 'absolute', left: COL_LEFT[col] - YW, top: ROW_TOP[row] - MT }}>
      <LineChart width={YW + PLOT + MR} height={MT + PLOT + XH} data={rows} margin={{ top: MT, right: MR, left: 0, bottom: 0 }}>
        <CartesianGrid vertical={false} stroke="#dedede" strokeWidth={1} />
        {xMajorTicks.map((t) => (
          <ReferenceLine key={'M' + t} x={t} stroke="#dedede" strokeWidth={1} ifOverflow="visible" />
        ))}
        {xMinorTicks.map((t) => (
          <ReferenceLine key={'m' + t} x={t} stroke="#c8c8c8" strokeWidth={1} strokeDasharray="1.5 2" ifOverflow="visible" />
        ))}
        <XAxis dataKey="x" type="number" scale="log" domain={[0.5, 50]} allowDataOverflow ticks={allXTicks}
          interval={0} axisLine={false} tickLine={false} tick={XTick} height={XH} />
        <YAxis type="number" domain={[-10, 60]} allowDataOverflow ticks={yTicks} interval={0}
          axisLine={false} tickLine={false} tick={YTick} width={YW} />
        {p.series.map((_, j) => (
          <Line key={j} dataKey={'s' + j} type="linear" stroke={seriesColors[j]} strokeWidth={2.6}
            dot={false} activeDot={false} isAnimationActive={false} strokeLinejoin="round" />
        ))}
        <ReferenceLine x={0.5} stroke={AX} strokeWidth={1} ifOverflow="visible" />
        <ReferenceLine x={50} stroke={AX} strokeWidth={1} ifOverflow="visible" />
        <ReferenceLine y={-10} stroke={AX} strokeWidth={1} ifOverflow="visible" />
        <ReferenceLine y={60} stroke={AX} strokeWidth={1} ifOverflow="visible" />
      </LineChart>
    </div>
  );
}

function Overlay() {
  const headerX = [272, 748];
  const arrows = [[138, 273, 407], [618, 751, 885]];
  return (
    <svg width={930} height={1564} style={{ position: 'absolute', left: 0, top: 0, pointerEvents: 'none' }}>
      {sideTitles.map((t, i) => {
        const [l, c, r] = arrows[i];
        return (
          <g key={t}>
            <text x={headerX[i]} y={27} textAnchor="middle" fontFamily='"Open Sans", sans-serif' fontWeight={700}
              fontStyle="italic" fontSize={25} fill="#000">{t}</text>
            <polygon points={`${l},33 ${r},33 ${c},53`} fill="#000" />
            <polygon points={`${l + 40},35.2 ${c},39 ${r - 40},35.2 ${c},50.5`} fill="#fff" />
          </g>
        );
      })}
      {panelLetters.map((l, i) => {
        const row = Math.floor(i / 2);
        const col = i % 2;
        return (
          <g key={l}>
            <text x={COL_LEFT[col] + 12} y={ROW_TOP[row] - 11} fontFamily={SANS} fontWeight={700} fontSize={24} fill="#000">{l}</text>
            <text x={TITLE_X[i]} y={TITLE_BASE[row]} fontFamily='"Open Sans", sans-serif' fontSize={22} fill="#111">
              <tspan fontFamily={SERIF} fontStyle="italic" fontSize={27}>α</tspan>
              <tspan fontSize={21} dy={13}>eff</tspan>
              <tspan dy={-13} dx={4}>= {alphaLabels[row]}</tspan>
              <tspan dx={4} dy={-8} fontSize={18}>°</tspan>
            </text>
          </g>
        );
      })}
      {ROW_TOP.map((t) => (
        <text key={t} transform={`translate(40, ${t + PLOT / 2}) rotate(-90)`} textAnchor="middle"
          fontFamily={SERIF} fontSize={34} fill={AX}>PWL (dB)</text>
      ))}
      {[223, 693].map((x0) => (
        <g key={x0} fill={AX}>
          <text x={x0} y={1472} fontFamily={SERIF} fontStyle="italic" fontSize={34}>St</text>
          <text x={x0 + 38} y={1472} fontFamily={SERIF} fontSize={32}>=</text>
          <text x={x0 + 89} y={1461} textAnchor="middle" fontFamily={SERIF} fontStyle="italic" fontSize={22}>fc</text>
          <line x1={x0 + 75} x2={x0 + 104} y1={1465} y2={1465} stroke={AX} strokeWidth={1} />
          <text x={x0 + 86} y={1482} textAnchor="middle" fontFamily={SERIF} fontStyle="italic" fontSize={22}>
            U<tspan fontStyle="normal" fontSize={15} dy={4}>∞</tspan>
          </text>
        </g>
      ))}
      <rect x={78} y={1502} width={900} height={100} fill="#fff" stroke="#3a3a3a" strokeWidth={1} />
      {seriesNames.map((n, i) => {
        const colI = Math.floor(i / 2);
        const rowI = i % 2;
        const x0 = 83 + colI * 171.5;
        const y = 1520 + rowI * 28;
        return (
          <g key={n}>
            <line x1={x0} x2={x0 + 59} y1={y} y2={y} stroke={seriesColors[i]} strokeWidth={3} />
            <text x={x0 + 64} y={y + 6.5} fontFamily={SERIF} fontSize={26} fill="#111">
              <tspan fontStyle="italic">x</tspan>/<tspan fontStyle="italic">c</tspan>
              <tspan dx={7}>=</tspan><tspan dx={7}>{n}</tspan>
            </text>
          </g>
        );
      })}
    </svg>
  );
}

export default function App() {
  return (
    <div style={{ position: 'absolute', left: 0, top: 0, width: 930, height: 1564, overflow: 'hidden', background: '#fff' }}>
      {panels.map((_, i) => <Panel key={i} idx={i} />)}
      <Overlay />
    </div>
  );
}
